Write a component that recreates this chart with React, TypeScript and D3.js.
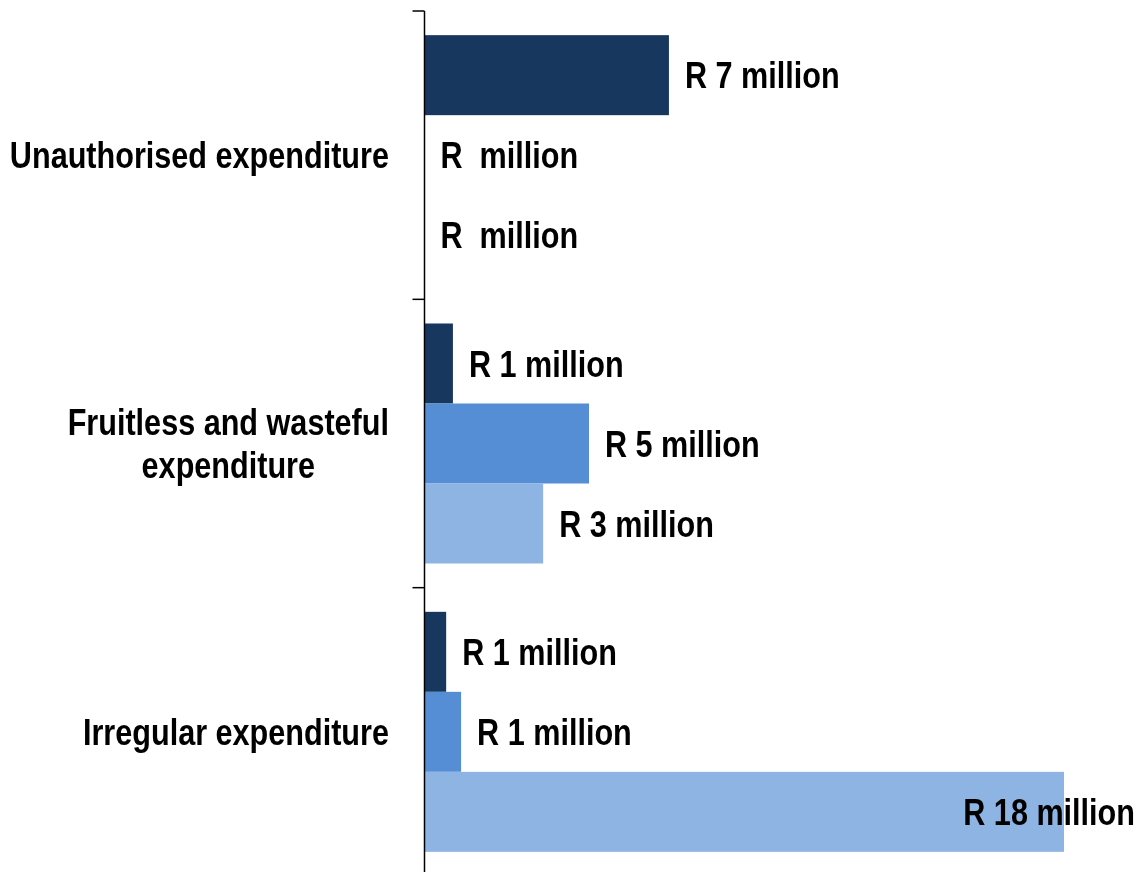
import * as d3 from "d3";
import { useEffect, useRef } from "react";

const categories = [
  "Unauthorised expenditure",
  "Fruitless and wasteful expenditure",
  "Irregular expenditure",
];
const seriesNames = ["Series 1", "Series 2", "Series 3"];
const series1 = [6.88, 0.8, 0.61];
const series2 = [0, 4.63, 1.03];
const series3 = [0, 3.34, 18.0];
const colors = ["#17375e", "#558ed5", "#8eb4e3"];

const FONT = "'Liberation Sans', Arial, sans-serif";
const NARROW = 0.827; // squeeze to imitate Arial Narrow

export default function App() {
  const svgRef = useRef<SVGSVGElement | null>(null);

  useEffect(() => {
    const svg = d3.select(svgRef.current);
    const width = 1140;
    const height = 872;
    const axisX = 424.5;
    const rightEdge = 1135;

    svg.selectAll("*").remove();
    svg.attr("width", width).attr("height", height);

    const values = [series1, series2, series3];
    const rows = categories.flatMap((c, ci) =>
      seriesNames.map((s, si) => ({ cat: c, s, si, v: values[si][ci] }))
    );

    const yCat = d3.scaleBand<string>().domain(categories).range([11, 876]);
    const ySer = d3
      .scaleBand<string>()
      .domain(seriesNames)
      .range([0, yCat.bandwidth()])
      .paddingOuter(0.302);
    const x = d3.scaleLinear().domain([0, 18]).range([axisX, 1064]);

    svg
      .selectAll(".bar")
      .data(rows)
      .enter()
      .append("rect")
      .attr("class", "bar")
      .attr("x", x(0))
      .attr("y", (d) => yCat(d.cat)! + ySer(d.s)!)
      .attr("width", (d) => x(d.v) - x(0))
      .attr("height", ySer.bandwidth())
      .attr("fill", (d) => colors[d.si]);

    // axis line + ticks at category boundaries
    svg
      .append("line")
      .attr("x1", axisX)
      .attr("x2", axisX)
      .attr("y1", 11)
      .attr("y2", height)
      .attr("stroke", "#000")
      .attr("stroke-width", 1.5);

    const bounds = categories.map((c) => yCat(c)!);
    svg
      .selectAll(".tick")
      .data(bounds)
      .enter()
      .append("line")
      .attr("x1", axisX - 12)
      .attr("x2", axisX)
      .attr("y1", (d) => d)
      .attr("y2", (d) => d)
      .attr("stroke", "#000")
      .attr("stroke-width", 1.5);

    const squeeze = (t: SVGTextElement) => {
      const w = t.getComputedTextLength() * NARROW;
      t.setAttribute("textLength", String(w));
      t.setAttribute("lengthAdjust", "spacingAndGlyphs");
      return w;
    };

    // data labels
    svg
      .selectAll(".data-label")
      .data(rows)
      .enter()
      .append("text")
      .attr("class", "data-label")
      .attr("x", (d) => x(d.v) + 16)
      .attr("y", (d) => yCat(d.cat)! + ySer(d.s)! + ySer.bandwidth() / 2)
      .attr("dy", "0.36em")
      .attr("font-family", FONT)
      .attr("font-weight", "bold")
      .attr("font-size", "37px")
      .attr("fill", "#000")
      .attr("xml:space", "preserve")
      .text((d) => `R ${d.v === 0 ? "" : Math.round(d.v)} million`)
      .each(function () {
        const t = this as SVGTextElement;
        const w = squeeze(t);
        const x0 = +t.getAttribute("x")!;
        if (x0 + w > rightEdge) t.setAttribute("x", String(rightEdge - w));
      });

    // category labels with wrapping
    const maxW = 392;
    const probe = svg
      .append("text")
      .attr("font-family", FONT)
      .attr("font-weight", "bold")
      .attr("font-size", "37px");
    const measure = (s: string) => {
      probe.text(s);
      return (probe.node() as SVGTextElement).getComputedTextLength() * NARROW;
    };
    categories.forEach((c) => {
      const words = c.split(" ");
      const lines: string[] = [];
      let cur = "";
      words.forEach((w) => {
        const test = cur ? cur + " " + w : w;
        if (measure(test) > maxW && cur) {
          lines.push(cur);
          cur = w;
        } else cur = test;
      });
      lines.push(cur);
      const blockW = d3.max(lines, measure)!;
      const cx = 389 - blockW / 2;
      const lh = 43;
      const cy = yCat(c)! + yCat.bandwidth() / 2;
      lines.forEach((l, i) => {
        const t = svg
          .append("text")
          .attr("x", cx)
          .attr("y", cy + (i - (lines.length - 1) / 2) * lh)
          .attr("dy", "0.36em")
          .attr("text-anchor", "middle")
          .attr("font-family", FONT)
          .attr("font-weight", "bold")
          .attr("font-size", "37px")
          .attr("fill", "#000")
          .text(l);
        squeeze(t.node() as SVGTextElement);
      });
    });
    probe.remove();
  }, []);

  return (
    <div style={{ position: "fixed", left: 0, top: 0 }}>
      <svg ref={svgRef} style={{ display: "block" }}></svg>
    </div>
  );
}
